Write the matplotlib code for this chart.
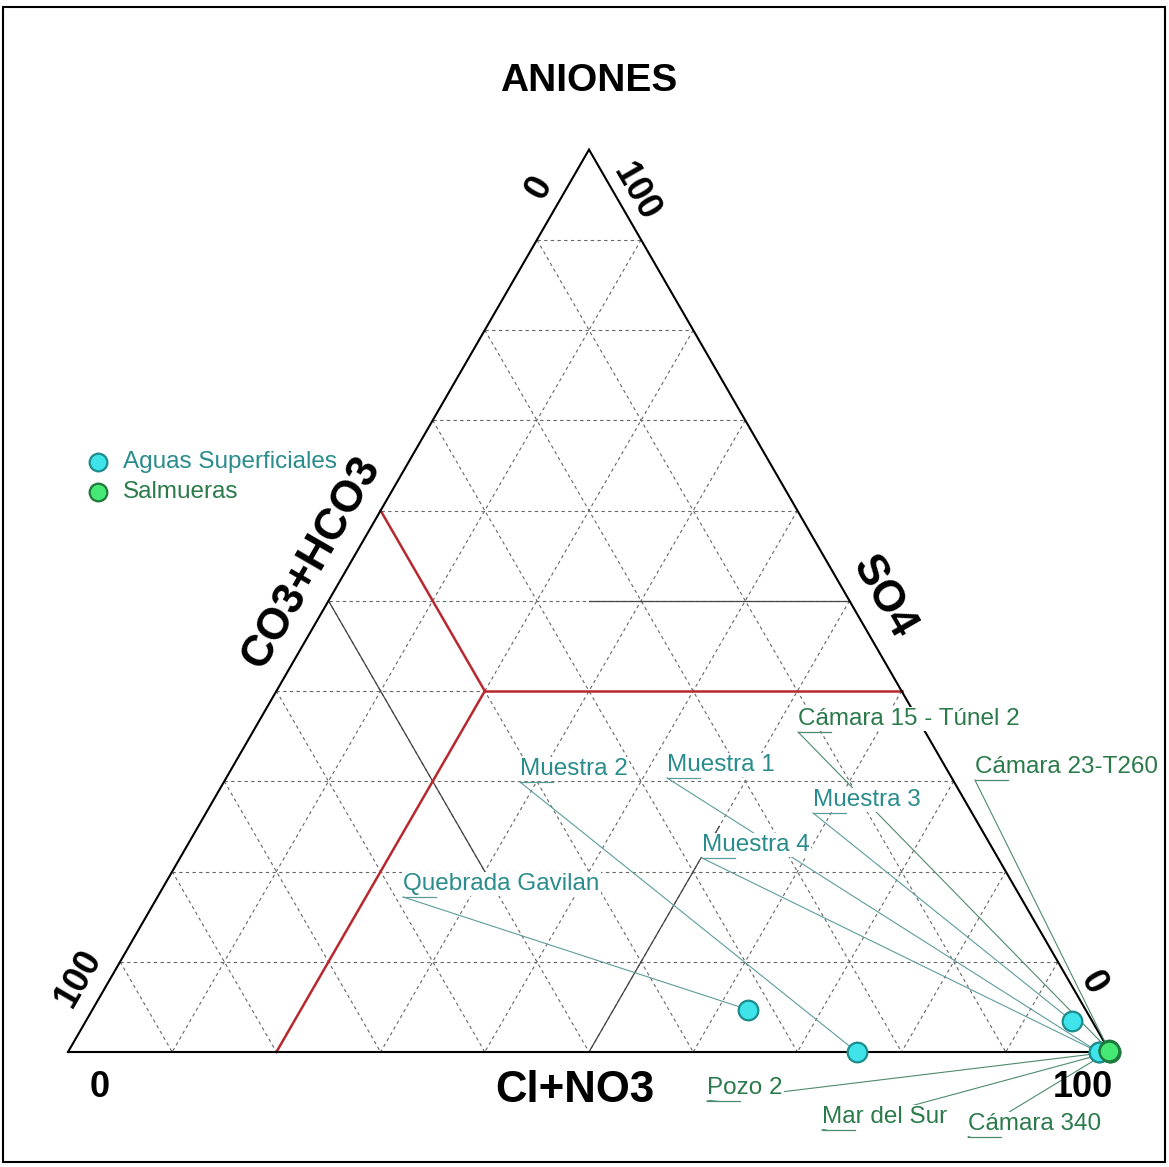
import numpy as np
import matplotlib
matplotlib.use("Agg")
import matplotlib.pyplot as plt
from matplotlib.patches import Rectangle

plt.rcParams["font.family"] = ["Liberation Sans", "DejaVu Sans"]

# ---- anion composition (% of meq): CO3+HCO3, SO4, Cl+NO3 ----
sup_names = ["Muestra 1", "Muestra 2", "Muestra 3", "Muestra 4", "Quebrada Gavilan"]
sup_co3 = [1.1, 24.3, 1.9, 1.1, 32.4]
sup_so4 = [0.0, 0.0, 3.4, 0.0, 4.7]
sup_cl = [98.9, 75.7, 94.7, 98.9, 62.9]

sal_names = ["Cámara 15 - Túnel 2", "Cámara 23-T260", "Pozo 2", "Mar del Sur", "Cámara 340"]
sal_co3 = [0.0, 0.0, 0.0, 0.0, 0.0]
sal_so4 = [0.2, 0.1, 0.0, 0.0, 0.1]
sal_cl = [99.8, 99.9, 100.0, 100.0, 99.9]

axis_ticks = ["0", "100"]

SQ3 = np.sqrt(3) / 2


def tern(a, b, c):
    """a = CO3+HCO3 (bottom-left), b = Cl+NO3 (bottom-right), c = SO4 (apex)."""
    a, b, c = (np.asarray(v, float) / 100.0 for v in (a, b, c))
    s = a + b + c
    b, c = b / s, c / s
    return b + c / 2, c * SQ3


fig = plt.figure(figsize=(11.69, 11.67), dpi=100)
ax = fig.add_axes([0, 0, 1, 1])
ax.set_xlim(-68 / 1042, 1101 / 1042)
ax.set_ylim(-115 / 1042, 1052 / 1042)
ax.axis("off")

# frame around the figure
fig.patches.append(Rectangle((3 / 1169, 5 / 1167), 1162 / 1169, 1155 / 1167,
                             transform=fig.transFigure, fill=False,
                             edgecolor="black", linewidth=1.5))

grid_kw = dict(color="#666666", lw=0.8, ls=(0, (3, 3)), zorder=1)
for k in range(10, 100, 10):
    # constant SO4
    x, y = tern([100 - k, 0], [0, 100 - k], [k, k])
    ax.plot(x, y, **grid_kw)
    # constant CO3+HCO3
    x, y = tern([k, k], [0, 100 - k], [100 - k, 0])
    ax.plot(x, y, **grid_kw)
    # constant Cl+NO3
    x, y = tern([0, 100 - k], [k, k], [100 - k, 0])
    ax.plot(x, y, **grid_kw)

# sub-division lines
sub_kw = dict(color="#444444", lw=0.9, zorder=2)
for seg in [([0, 25], [50, 25], [50, 50]),
            ([50, 25], [50, 50], [0, 25]),
            ([50, 50], [0, 30], [50, 20])]:
    x, y = tern(*seg)
    ax.plot(x, y, **sub_kw)

# classification boundaries
red_kw = dict(color="#B8282E", lw=1.8, zorder=3)
for seg in [([40, 40], [0, 20], [60, 40]),
            ([40, 80], [20, 20], [40, 0]),
            ([40, 0], [20, 60], [40, 40])]:
    x, y = tern(*seg)
    ax.plot(x, y, **red_kw)

# triangle outline
x, y = tern([100, 0, 0, 100], [0, 100, 0, 0], [0, 0, 100, 0])
ax.plot(x, y, color="black", lw=1.5, zorder=4, solid_joinstyle="miter")

# sample markers
sup_x, sup_y = tern(sup_co3, sup_cl, sup_so4)
sal_x, sal_y = tern(sal_co3, sal_cl, sal_so4)
h_sup = ax.scatter(sup_x, sup_y, s=200, color="#3FE3EA", edgecolor="#1C8C8C",
                   linewidth=1.6, zorder=8, label="Aguas Superficiales")
h_sal = ax.scatter(sal_x, sal_y, s=200, color="#44E872", edgecolor="#1E7A3C",
                   linewidth=1.6, zorder=9, label="Salmueras")

# label anchors (start of the short underline), in plot units
sup_anchor = [(0.5749, 0.2630), (0.4338, 0.2591), (0.7150, 0.2294),
              (0.6084, 0.1862), (0.3215, 0.1488)]
sal_anchor = [(0.7006, 0.3071), (0.8704, 0.2610), (0.6132, -0.0470),
              (0.7236, -0.0749), (0.8637, -0.0816)]

UL = 0.032      # underline length
BASE = 0.0068   # baseline above underline


def leader(names, anchors, xs, ys, tcolor, lcolor):
    for name, (ax0, ay0), px, py in zip(names, anchors, xs, ys):
        ax.plot([ax0, px], [ay0, py], color=lcolor, lw=0.8, zorder=5)
        ax.plot([ax0, ax0 + UL], [ay0, ay0], color=lcolor, lw=0.9, zorder=7)
        ax.text(ax0, ay0 + BASE, name, fontsize=17.5, color=tcolor,
                ha="left", va="baseline", zorder=6,
                bbox=dict(boxstyle="square,pad=0.05", fc="white", ec="none"))


leader(sup_names, sup_anchor, sup_x, sup_y, "#2A8C8C", "#5E9C9C")
leader(sal_names, sal_anchor, sal_x, sal_y, "#2B7A4B", "#4F8A6C")

# titles and axis names
bold = dict(fontweight="bold", color="black", ha="center", va="center", zorder=10)
ax.text(0.5, 0.9319, "ANIONES", fontsize=28, **bold)
ax.text(0.4866, -0.0365, "Cl+NO3", fontsize=31.5, **bold)
ax.text(0.2335, 0.4700, "CO3+HCO3", fontsize=31.5, rotation=60, **bold)
ax.text(0.783, 0.4367, "SO4", fontsize=31.5, rotation=-60, **bold)

# scale end values
ax.text(0.452, 0.830, axis_ticks[0], fontsize=26, rotation=60, **bold)
ax.text(0.545, 0.825, axis_ticks[1], fontsize=26, rotation=-60, **bold)
ax.text(0.0106, 0.0710, axis_ticks[1], fontsize=26, rotation=60, **bold)
ax.text(0.9837, 0.0662, axis_ticks[0], fontsize=26, rotation=-60, **bold)
ax.text(0.0307, -0.0345, axis_ticks[0], fontsize=26, **bold)
ax.text(0.974, -0.0336, axis_ticks[1], fontsize=26, **bold)

leg = ax.legend(handles=[h_sup, h_sal], loc="upper left",
                bbox_to_anchor=(88 / 1169, 1 - 451 / 1167), frameon=False,
                fontsize=17.5, borderpad=0, borderaxespad=0, handlelength=0.8,
                handletextpad=0.65, labelspacing=0.34, markerscale=0.9)
for t, c in zip(leg.get_texts(), ["#2A8C8C", "#2B7A4B"]):
    t.set_color(c)

fig.savefig("out.png", dpi=100)
